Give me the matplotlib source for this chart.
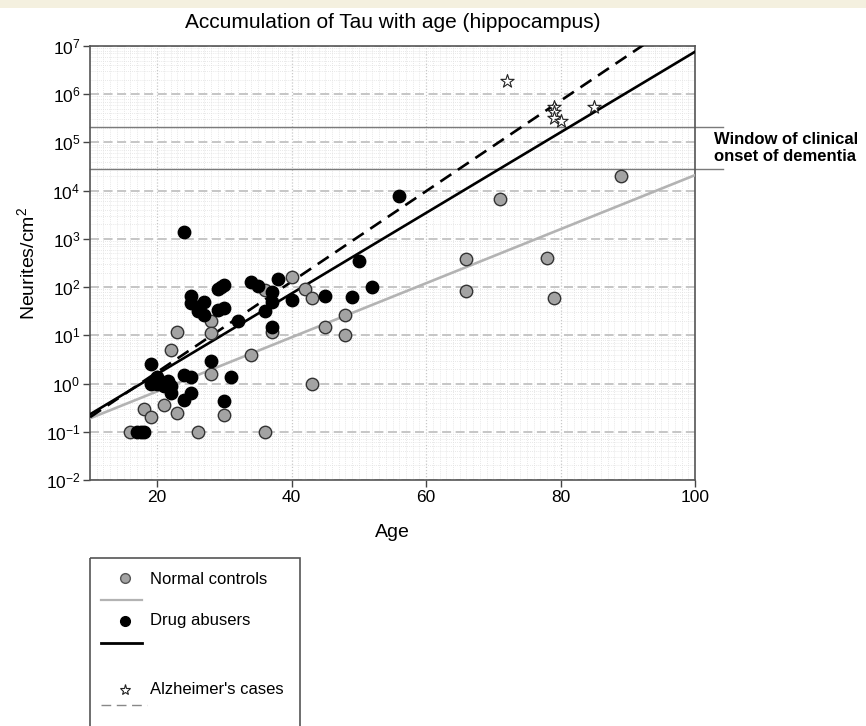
import numpy as np
import matplotlib.pyplot as plt
from matplotlib.ticker import MultipleLocator, LogLocator, LogFormatterMathtext, NullFormatter
from matplotlib.patches import Rectangle

plt.rcParams['font.family'] = 'Liberation Sans'
plt.rcParams['mathtext.fontset'] = 'custom'
plt.rcParams['mathtext.rm'] = 'Liberation Sans'
plt.rcParams['mathtext.default'] = 'regular'
plt.rcParams['axes.unicode_minus'] = False

# values
normal_age = [16, 18, 19, 21, 22, 23, 23, 26, 28, 28, 28, 30, 34, 36, 36, 37,
              40, 42, 43, 43, 45, 48, 48, 66, 66, 71, 78, 79, 89]
normal_tau = [0.1, 0.3, 0.2, 0.36, 5, 12, 0.25, 0.1, 20, 11, 1.6, 0.22, 4, 0.1, 88, 12,
              160, 90, 60, 1, 15, 27, 10, 380, 83, 6600, 400, 59, 20500]

drug_age = [17, 17.6, 18, 19, 19, 20, 20, 21, 21.6, 22, 22, 24, 24, 24, 25, 25, 25, 25,
            26, 27, 27, 28, 29, 29, 29.5, 30, 30, 30, 31, 32, 34, 35, 36, 37, 37, 37,
            38, 40, 45, 49, 50, 52, 56]
drug_tau = [0.1, 0.1, 0.1, 2.5, 1.0, 1.4, 1.0, 0.87, 1.15, 0.87, 0.63, 1400, 1.5, 0.46,
            1.4, 0.63, 65, 46, 32, 50, 26, 2.9, 93, 33, 100, 110, 37, 0.43, 1.4, 20, 125,
            105, 32, 80, 50, 15, 145, 54, 65, 62, 350, 100, 7800]

ad_age = [72, 79, 79, 79, 80, 85]
ad_tau = [1.9e6, 5.4e5, 4.3e5, 3.2e5, 2.8e5, 5.4e5]

# regression line end points
fit_age = [10, 100]
normal_fit = [0.19, 2.1e4]
drug_fit = [0.23, 7.6e6]
ad_fit = [0.2, 5.5e7]

# window of clinical onset
window_low = 2.8e4
window_high = 2.1e5

fig = plt.figure(figsize=(8.66, 7.26), dpi=100)
fig.patches.append(Rectangle((0, 1 - 8 / 726), 1, 8 / 726, transform=fig.transFigure,
                             facecolor='#f4f0df', edgecolor='none', zorder=0))

ax = fig.add_axes([90 / 866, 1 - 480 / 726, 605 / 866, 434 / 726])
ax.set_yscale('log')
ax.set_xlim(10, 100)
ax.set_ylim(1e-2, 1e7)

ax.xaxis.set_major_locator(MultipleLocator(20))
ax.xaxis.set_minor_locator(MultipleLocator(1))
ax.yaxis.set_major_locator(LogLocator(base=10, numticks=15))
ax.yaxis.set_minor_locator(LogLocator(base=10, subs=np.arange(2, 10), numticks=15))
ax.yaxis.set_major_formatter(LogFormatterMathtext())
ax.yaxis.set_minor_formatter(NullFormatter())

# background grid
ax.grid(which='minor', axis='both', color='#e0e0e0', linestyle=(0, (1, 1.5)), linewidth=0.6)
ax.grid(which='major', axis='x', color='#c8c8c8', linestyle=(0, (1, 1.5)), linewidth=0.9)
ax.grid(which='major', axis='y', color='#c2c2c2', linestyle=(0, (5, 2.5)), linewidth=1.3)
ax.set_axisbelow(True)

ax.tick_params(which='major', direction='out', length=5, width=1, color='#444444',
               labelsize=12.5, pad=2)
ax.tick_params(which='minor', length=0)
for spine in ax.spines.values():
    spine.set_linewidth(1.2)
    spine.set_color('#555555')

# clinical window lines
ax.plot([10, 104.2], [window_high, window_high], color='#7a7a7a', linewidth=1.0, clip_on=False, zorder=2)
ax.plot([10, 104.2], [window_low, window_low], color='#7a7a7a', linewidth=1.0, clip_on=False, zorder=2)
ax.text(102.8, np.sqrt(window_low * window_high), 'Window of clinical\nonset of dementia',
        fontsize=12, fontweight='bold', va='center', ha='left', linespacing=1.15)

# regression lines
ax.plot(fit_age, normal_fit, color='#b3b3b3', linewidth=1.9, zorder=3)
ax.plot(fit_age, drug_fit, color='black', linewidth=1.9, zorder=3)
ax.plot(fit_age, ad_fit, color='black', linewidth=1.9, linestyle=(0, (5, 3)), zorder=3)

# points
ax.scatter(normal_age, normal_tau, s=80, facecolor='#a3a3a3', edgecolor='#333333',
           linewidth=1.0, zorder=4)
ax.scatter(drug_age, drug_tau, s=80, facecolor='black', edgecolor='black',
           linewidth=1.0, zorder=5)
ax.scatter(ad_age, ad_tau, s=100, marker='*', facecolor='white', edgecolor='#222222',
           linewidth=0.8, zorder=5)

ax.set_title('Accumulation of Tau with age (hippocampus)', fontsize=15, pad=13)
ax.set_xlabel('Age', fontsize=14, labelpad=14)
ax.set_ylabel('Neurites/cm$^2$', fontsize=14, labelpad=5)

# legend drawn below the plot in pixel coordinates
lax = fig.add_axes([0, 0, 1, 1], zorder=-1)
lax.set_xlim(0, 866)
lax.set_ylim(726, 0)
lax.axis('off')
lax.add_patch(Rectangle((90, 558), 210, 200, facecolor='none', edgecolor='#555555', linewidth=1.2))
lax.plot([125], [578], marker='o', markersize=7, markerfacecolor='#a3a3a3', markeredgecolor='#555555')
lax.plot([101, 142], [600, 600], color='#b3b3b3', linewidth=1.6)
lax.text(150, 579, 'Normal controls', fontsize=12, va='center')
lax.plot([125], [621], marker='o', markersize=7, color='black')
lax.plot([101, 142], [643, 643], color='black', linewidth=2.0)
lax.text(150, 621, 'Drug abusers', fontsize=12, va='center')
lax.plot([125], [690], marker='*', markersize=8, markerfacecolor='white', markeredgecolor='#222222',
         markeredgewidth=0.8)
lax.plot([101, 147], [705, 705], color='#888888', linewidth=1.0, linestyle=(0, (7, 4)))
lax.text(150, 690, "Alzheimer's cases", fontsize=12, va='center')

fig.savefig('out.png', dpi=100)
